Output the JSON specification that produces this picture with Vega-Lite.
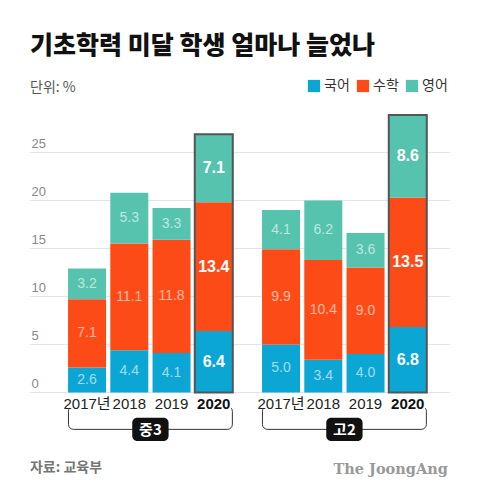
{
  "$schema": "https://vega.github.io/schema/vega-lite/v6.json",
  "width": 420,
  "height": 360,
  "autosize": {"type": "none"},
  "padding": {"left": 30, "top": 114, "right": 30, "bottom": 21},
  "background": "white",
  "config": {
    "view": {"stroke": null},
    "font": "Liberation Sans, Noto Sans CJK KR"
  },
  "title": {
    "text": "기초학력 미달 학생 얼마나 늘었나",
    "subtitle": "단위: %",
    "anchor": "start",
    "frame": "group",
    "font": "Noto Sans CJK KR",
    "fontSize": 25,
    "fontWeight": 900,
    "color": "#111",
    "subtitleFont": "Noto Sans CJK KR",
    "subtitleFontSize": 14,
    "subtitleColor": "#555",
    "subtitlePadding": 22,
    "offset": -16
  },
  "datasets": {
    "scores": [
      {"group": "중3", "year": "2017", "subject": "국어", "ord": 1, "value": 2.6},
      {"group": "중3", "year": "2017", "subject": "수학", "ord": 2, "value": 7.1},
      {"group": "중3", "year": "2017", "subject": "영어", "ord": 3, "value": 3.2},
      {"group": "중3", "year": "2018", "subject": "국어", "ord": 1, "value": 4.4},
      {"group": "중3", "year": "2018", "subject": "수학", "ord": 2, "value": 11.1},
      {"group": "중3", "year": "2018", "subject": "영어", "ord": 3, "value": 5.3},
      {"group": "중3", "year": "2019", "subject": "국어", "ord": 1, "value": 4.1},
      {"group": "중3", "year": "2019", "subject": "수학", "ord": 2, "value": 11.8},
      {"group": "중3", "year": "2019", "subject": "영어", "ord": 3, "value": 3.3},
      {"group": "중3", "year": "2020", "subject": "국어", "ord": 1, "value": 6.4},
      {"group": "중3", "year": "2020", "subject": "수학", "ord": 2, "value": 13.4},
      {"group": "중3", "year": "2020", "subject": "영어", "ord": 3, "value": 7.1},
      {"group": "고2", "year": "2017", "subject": "국어", "ord": 1, "value": 5.0},
      {"group": "고2", "year": "2017", "subject": "수학", "ord": 2, "value": 9.9},
      {"group": "고2", "year": "2017", "subject": "영어", "ord": 3, "value": 4.1},
      {"group": "고2", "year": "2018", "subject": "국어", "ord": 1, "value": 3.4},
      {"group": "고2", "year": "2018", "subject": "수학", "ord": 2, "value": 10.4},
      {"group": "고2", "year": "2018", "subject": "영어", "ord": 3, "value": 6.2},
      {"group": "고2", "year": "2019", "subject": "국어", "ord": 1, "value": 4.0},
      {"group": "고2", "year": "2019", "subject": "수학", "ord": 2, "value": 9.0},
      {"group": "고2", "year": "2019", "subject": "영어", "ord": 3, "value": 3.6},
      {"group": "고2", "year": "2020", "subject": "국어", "ord": 1, "value": 6.8},
      {"group": "고2", "year": "2020", "subject": "수학", "ord": 2, "value": 13.5},
      {"group": "고2", "year": "2020", "subject": "영어", "ord": 3, "value": 8.6}
    ],
    "years": [
      {"group": "중3", "year": "2017", "label": "2017년"},
      {"group": "중3", "year": "2018", "label": "2018"},
      {"group": "중3", "year": "2019", "label": "2019"},
      {"group": "중3", "year": "2020", "label": "2020"},
      {"group": "고2", "year": "2017", "label": "2017년"},
      {"group": "고2", "year": "2018", "label": "2018"},
      {"group": "고2", "year": "2019", "label": "2019"},
      {"group": "고2", "year": "2020", "label": "2020"}
    ],
    "groups": [
      {"group": "중3"},
      {"group": "고2"}
    ],
    "notes": [
      {"group": "중3", "text": "자료: 교육부"},
      {"group": "고2", "text": "The JoongAng"}
    ]
  },
  "layer": [
    {
      "data": {"name": "scores"},
      "mark": {"type": "bar"},
      "encoding": {
        "x": {
          "field": "group",
          "type": "nominal",
          "axis": null,
          "scale": {"domain": ["중3", "고2"], "paddingInner": 0.129, "paddingOuter": 0.147, "align": 0.63}
        },
        "xOffset": {
          "field": "year",
          "type": "nominal",
          "scale": {"domain": ["2017", "2018", "2019", "2020"], "paddingInner": 0.1, "paddingOuter": 0.05}
        },
        "y": {
          "aggregate": "sum",
          "field": "value",
          "type": "quantitative",
          "stack": "zero",
          "scale": {"domain": [-8.5, 29], "nice": false, "zero": false},
          "axis": {
            "values": [0, 5, 10, 15, 20, 25],
            "title": null,
            "grid": true,
            "gridColor": "#c8c8c8",
            "gridDash": [1, 1],
            "domain": false,
            "ticks": false,
            "labelAlign": "left",
            "labelBaseline": "bottom",
            "labelPadding": -1,
            "labelOffset": -2,
            "labelColor": "#888",
            "labelFontSize": 13
          }
        },
        "color": {
          "field": "subject",
          "type": "nominal",
          "scale": {"domain": ["국어", "수학", "영어"], "range": ["#0ba6d4", "#fd4b17", "#55c3ae"]},
          "legend": {
            "orient": "none",
            "legendX": 277,
            "legendY": -35,
            "direction": "horizontal",
            "title": null,
            "symbolType": "square",
            "symbolSize": 150,
            "symbolStrokeWidth": 0,
            "symbolOpacity": 1,
            "labelFont": "Noto Sans CJK KR",
            "labelFontSize": 14,
            "labelColor": "#333",
            "labelOffset": 3,
            "columnPadding": 6
          }
        },
        "order": {"field": "ord", "type": "quantitative"}
      }
    },
    {
      "data": {"name": "scores"},
      "transform": [{"filter": "datum.year == '2020'"}],
      "mark": {"type": "bar", "fill": null, "stroke": "#555", "strokeWidth": 2},
      "encoding": {
        "x": {"field": "group", "type": "nominal"},
        "xOffset": {"field": "year", "type": "nominal"},
        "y": {"aggregate": "sum", "field": "value", "type": "quantitative"}
      }
    },
    {
      "mark": {"type": "rule", "color": "#666", "strokeWidth": 1.5},
      "encoding": {"y": {"datum": 0}}
    },
    {
      "data": {"name": "scores"},
      "transform": [
        {"stack": "value", "groupby": ["group", "year"], "sort": [{"field": "ord"}], "as": ["v0", "v1"]},
        {"calculate": "(datum.v0 + datum.v1) / 2", "as": "mid"},
        {"filter": "datum.year != '2020'"}
      ],
      "mark": {"type": "text", "color": "white", "opacity": 0.6, "fontSize": 14, "baseline": "middle"},
      "encoding": {
        "x": {"field": "group", "type": "nominal"},
        "xOffset": {"field": "year", "type": "nominal"},
        "y": {"field": "mid", "type": "quantitative"},
        "text": {"field": "value", "type": "quantitative", "format": ".1f"}
      }
    },
    {
      "data": {"name": "scores"},
      "transform": [
        {"stack": "value", "groupby": ["group", "year"], "sort": [{"field": "ord"}], "as": ["v0", "v1"]},
        {"calculate": "(datum.v0 + datum.v1) / 2", "as": "mid"},
        {"filter": "datum.year == '2020'"}
      ],
      "mark": {"type": "text", "color": "white", "fontSize": 16, "fontWeight": "bold", "baseline": "middle"},
      "encoding": {
        "x": {"field": "group", "type": "nominal"},
        "xOffset": {"field": "year", "type": "nominal"},
        "y": {"field": "mid", "type": "quantitative"},
        "text": {"field": "value", "type": "quantitative", "format": ".1f"}
      }
    },
    {
      "data": {"name": "groups"},
      "mark": {"type": "bar", "fill": null, "stroke": "#333", "strokeWidth": 1, "cornerRadius": 5, "width": {"band": 0.97}},
      "encoding": {
        "x": {"field": "group", "type": "nominal"},
        "y": {"datum": -1.45},
        "y2": {"datum": -3.85}
      }
    },
    {
      "data": {"name": "groups"},
      "mark": {"type": "bar", "fill": "white", "width": {"band": 0.955}},
      "encoding": {
        "x": {"field": "group", "type": "nominal"},
        "y": {"datum": -1.2},
        "y2": {"datum": -2.25}
      }
    },
    {
      "data": {"name": "groups"},
      "mark": {"type": "bar", "fill": "#111", "cornerRadius": 5, "width": {"band": 0.215}},
      "encoding": {
        "x": {"field": "group", "type": "nominal"},
        "y": {"datum": -2.65},
        "y2": {"datum": -5.05}
      }
    },
    {
      "data": {"name": "groups"},
      "mark": {"type": "text", "color": "white", "font": "Noto Sans CJK KR", "fontSize": 15, "fontWeight": "bold", "baseline": "middle"},
      "encoding": {
        "x": {"field": "group", "type": "nominal"},
        "y": {"datum": -3.88},
        "text": {"field": "group"}
      }
    },
    {
      "data": {"name": "years"},
      "transform": [{"filter": "datum.year != '2020'"}],
      "mark": {"type": "text", "color": "#222", "fontSize": 15, "baseline": "middle"},
      "encoding": {
        "x": {"field": "group", "type": "nominal"},
        "xOffset": {"field": "year", "type": "nominal"},
        "y": {"datum": -1.25},
        "text": {"field": "label"}
      }
    },
    {
      "data": {"name": "years"},
      "transform": [{"filter": "datum.year == '2020'"}],
      "mark": {"type": "text", "color": "#111", "fontSize": 15, "fontWeight": "bold", "baseline": "middle"},
      "encoding": {
        "x": {"field": "group", "type": "nominal"},
        "xOffset": {"field": "year", "type": "nominal"},
        "y": {"datum": -1.25},
        "text": {"field": "label"}
      }
    },
    {
      "data": {"name": "notes"},
      "transform": [{"filter": "datum.group == '중3'"}],
      "mark": {"type": "text", "color": "#777", "font": "Noto Sans CJK KR", "fontSize": 14, "fontWeight": "bold", "align": "left", "baseline": "middle", "dx": -36},
      "encoding": {
        "x": {"field": "group", "type": "nominal", "bandPosition": 0},
        "y": {"datum": -7.9},
        "text": {"field": "text"}
      }
    },
    {
      "data": {"name": "notes"},
      "transform": [{"filter": "datum.group == '고2'"}],
      "mark": {"type": "text", "color": "#999", "font": "DejaVu Serif", "fontSize": 14.5, "fontWeight": "bold", "align": "right", "baseline": "middle", "dx": 19},
      "encoding": {
        "x": {"field": "group", "type": "nominal", "bandPosition": 1},
        "y": {"datum": -8.1},
        "text": {"field": "text"}
      }
    }
  ]
}
